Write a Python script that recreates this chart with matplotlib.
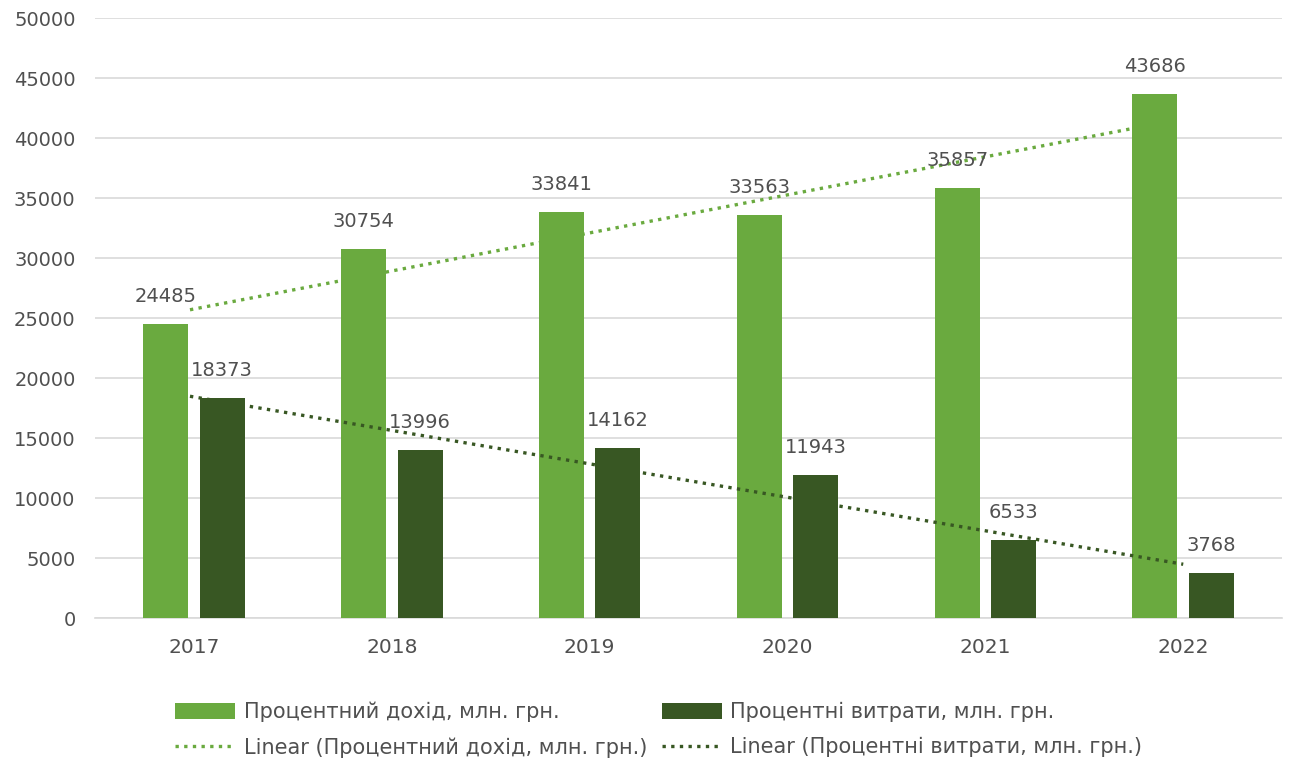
import numpy as np
import matplotlib.pyplot as plt

years = ['2017', '2018', '2019', '2020', '2021', '2022']
income = [24485, 30754, 33841, 33563, 35857, 43686]
expenses = [18373, 13996, 14162, 11943, 6533, 3768]

income_label = 'Процентний дохід, млн. грн.'
expenses_label = 'Процентні витрати, млн. грн.'

light = '#6aaa3f'
dark = '#385723'
text_col = '#505050'

plt.rcParams['font.family'] = ['DejaVu Sans']

fig = plt.figure(figsize=(12.89, 7.64), dpi=100)
ax = fig.add_axes([0.0737, 0.191, 0.921, 0.785])

x = np.arange(len(years))
w = 0.227
off = 0.143

b1 = ax.bar(x - off, income, w, color=light, zorder=3, label=income_label)
b2 = ax.bar(x + off, expenses, w, color=dark, zorder=3, label=expenses_label)

# linear trendlines (like Excel)
k1, c1 = np.polyfit(x, income, 1)
k2, c2 = np.polyfit(x, expenses, 1)
xt1 = np.array([-0.02, 5 - off])
xt2 = np.array([-0.02, 5.0])
t1, = ax.plot(xt1, k1 * xt1 + c1, ls=(0, (1, 1.6)), lw=2.4, color=light, zorder=2,
              label='Linear (' + income_label + ')')
t2, = ax.plot(xt2, k2 * xt2 + c2, ls=(0, (1, 1.6)), lw=2.4, color=dark, zorder=4,
              label='Linear (' + expenses_label + ')')

for xi, v in zip(x, income):
    ax.annotate(str(v), (xi - off, v), xytext=(0, 13), textcoords='offset points',
                ha='center', va='bottom', fontsize=14, color=text_col, zorder=5)
for xi, v in zip(x, expenses):
    ax.annotate(str(v), (xi + off, v), xytext=(0, 13), textcoords='offset points',
                ha='center', va='bottom', fontsize=14, color=text_col, zorder=5)

ax.set_xlim(-0.5, 5.5)
ax.set_ylim(0, 50000)
ax.set_yticks(np.arange(0, 50001, 5000))
ax.set_xticks(x)
ax.set_xticklabels(years)
ax.grid(axis='y', color='#d9d9d9', lw=1.2, zorder=0)
for s in ['top', 'right', 'left']:
    ax.spines[s].set_visible(False)
ax.spines['bottom'].set_color('#d9d9d9')
ax.spines['bottom'].set_linewidth(1.2)
ax.tick_params(length=0, labelsize=14, labelcolor=text_col)
ax.tick_params(axis='x', pad=14, labelsize=14.5)
ax.tick_params(axis='y', pad=14)

fig.legend(handles=[b1, t1, b2, t2], loc='center', bbox_to_anchor=(0.511, 0.045),
           ncol=2, frameon=False, fontsize=15, labelcolor=text_col,
           handlelength=2.9, handleheight=0.77, columnspacing=0.7, handletextpad=0.4,
           labelspacing=0.72)

fig.savefig('out.png', dpi=100)
